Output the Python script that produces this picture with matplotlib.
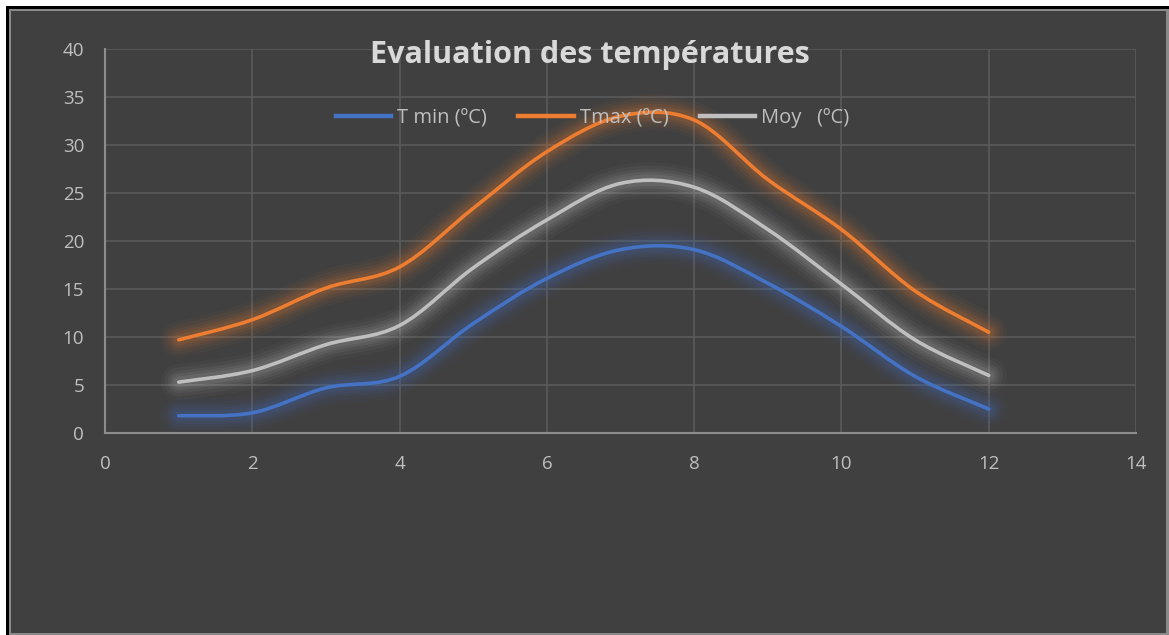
import numpy as np
import matplotlib
matplotlib.use('Agg')
import matplotlib.pyplot as plt
from matplotlib.path import Path
from matplotlib.patches import PathPatch, Rectangle

# Monthly temperatures
months = [1, 2, 3, 4, 5, 6, 7, 8, 9, 10, 11, 12]
t_min = [1.8, 2.1, 4.7, 5.9, 11.4, 16.1, 19.1, 19.1, 15.6, 11.1, 5.9, 2.5]
t_max = [9.7, 11.8, 15.1, 17.3, 23.4, 29.3, 33.0, 32.6, 26.4, 21.2, 14.8, 10.5]
t_moy = [5.3, 6.5, 9.2, 11.2, 17.2, 22.2, 26.0, 25.6, 21.2, 15.5, 9.7, 6.0]

series = [('T min (ºC)', t_min, '#4472c4'),
          ('Tmax (ºC)', t_max, '#ed7d31'),
          ('Moy   (ºC)', t_moy, '#bfbfbf')]

bg = '#404040'
txt = '#bfbfbf'
plt.rcParams['font.family'] = ['Open Sans', 'DejaVu Sans']


def smooth_path(xs, ys):
    # Excel-like smoothed line: Catmull-Rom segments as cubic Bezier curves
    p = np.column_stack([xs, ys]).astype(float)
    ext = np.vstack([p[0], p, p[-1]])
    verts = [p[0]]
    codes = [Path.MOVETO]
    for i in range(len(p) - 1):
        c1 = ext[i + 1] + (ext[i + 2] - ext[i]) / 6.0
        c2 = ext[i + 2] - (ext[i + 3] - ext[i + 1]) / 6.0
        verts += [c1, c2, ext[i + 2]]
        codes += [Path.CURVE4] * 3
    return Path(verts, codes)


fig = plt.figure(figsize=(11.69, 6.35), dpi=100)
fig.patch.set_facecolor('white')
W, H = 1169, 635
# black frame + dark chart area
fig.patches.append(Rectangle((6 / W, 0), 1, 1 - 6 / H, transform=fig.transFigure,
                             facecolor='black', edgecolor='none', zorder=-3))
fig.patches.append(Rectangle((9 / W, 0), 1, 1 - 9 / H, transform=fig.transFigure,
                             facecolor='#8a8a8a', edgecolor='none', zorder=-2))
fig.patches.append(Rectangle((11 / W, 2 / H), (1156 - 1) / W, 1 - 13 / H,
                             transform=fig.transFigure,
                             facecolor=bg, edgecolor='none', zorder=-1))

ax = fig.add_axes([105 / W, 1 - 433 / H, (1136 - 105) / W, (433 - 49) / H])
ax.set_facecolor(bg)
ax.patch.set_alpha(0)

ax.set_xlim(0, 14)
ax.set_ylim(0, 40)
ax.set_xticks(range(0, 15, 2))
ax.set_yticks(range(0, 41, 5))
ax.grid(True, color='#5a5a5a', linewidth=1.2)
ax.set_axisbelow(True)
for s in ['top', 'right']:
    ax.spines[s].set_visible(False)
for s in ['left', 'bottom']:
    ax.spines[s].set_color('#8c8c8c')
    ax.spines[s].set_linewidth(1.5)
ax.tick_params(length=0, colors=txt, labelsize=13.5)
ax.tick_params(axis='y', pad=15)
ax.tick_params(axis='x', pad=16)

for label, vals, col in series:
    path = smooth_path(months, vals)
    # soft glow around the line
    for lw, a in [(26, 0.04), (21, 0.05), (16, 0.07), (12, 0.09), (8, 0.11)]:
        ax.add_patch(PathPatch(path, facecolor='none', edgecolor=col, lw=lw,
                               alpha=a, capstyle='round', joinstyle='round', zorder=2))
    ax.add_patch(PathPatch(path, facecolor='none', edgecolor=col, lw=2.6,
                           capstyle='round', zorder=3))
    ax.plot([], [], color=col, lw=3.2, label=label)

leg = ax.legend(loc='center', bbox_to_anchor=(0.473, 0.82), ncol=3, frameon=False,
                fontsize=14.5, handlelength=2.75, handletextpad=0.3, columnspacing=1.55)
for t in leg.get_texts():
    t.set_color(txt)

fig.text(590 / W, 1 - 55 / H, 'Evaluation des températures', ha='center', va='center',
         fontsize=22, fontweight='bold', color='#d9d9d9')

fig.savefig('out.png', dpi=100, facecolor=fig.get_facecolor())
